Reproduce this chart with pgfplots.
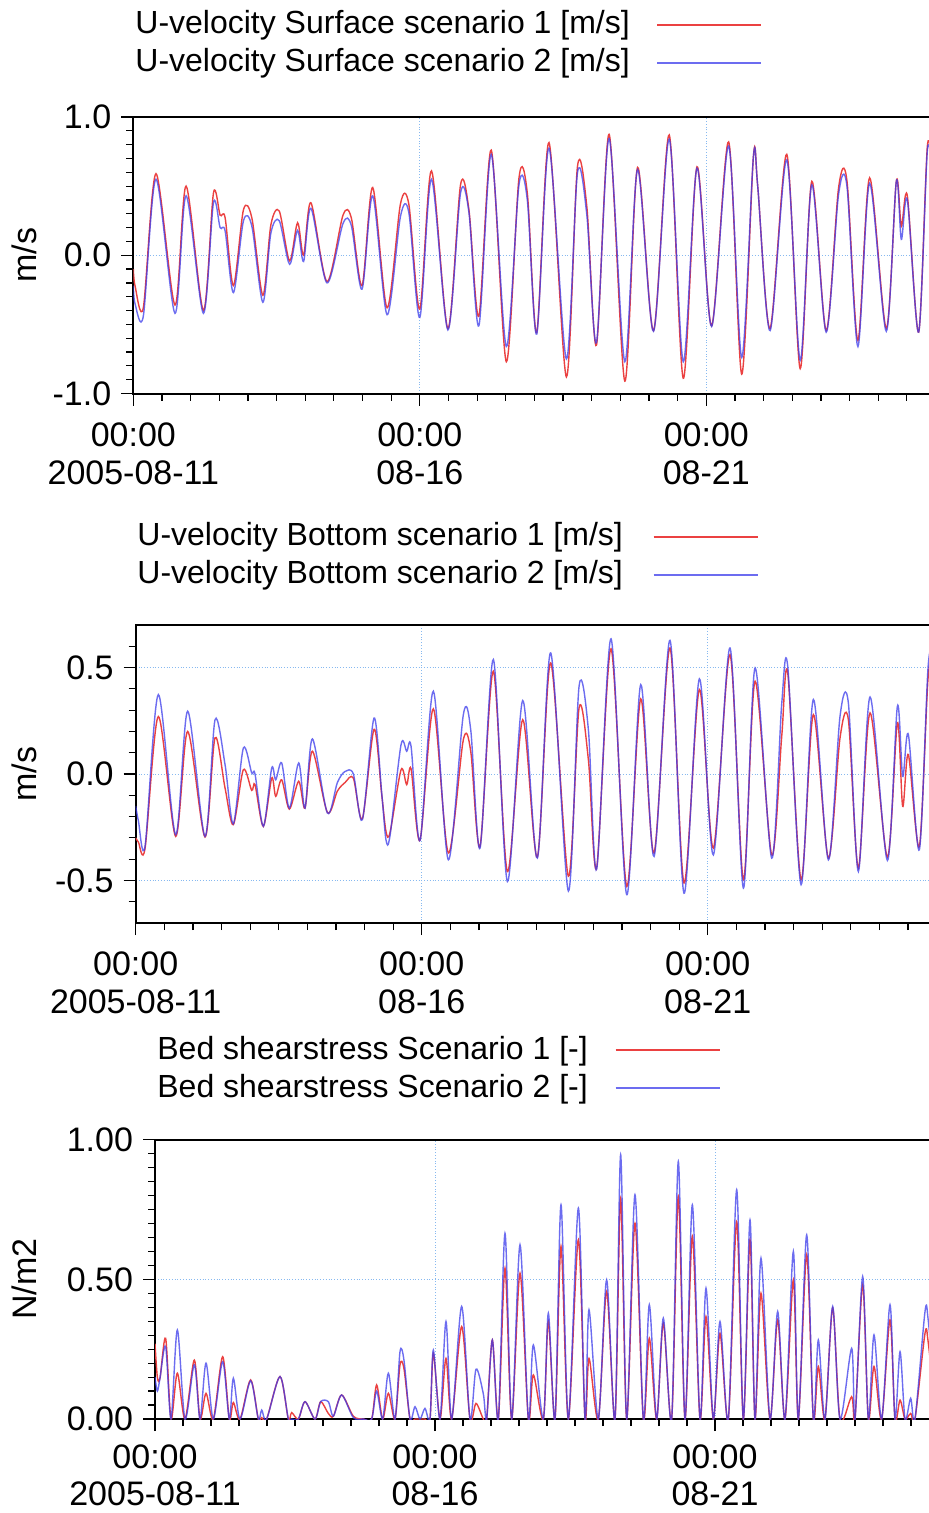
\documentclass[border=0pt]{standalone}
\usepackage{pgfplots}
\pgfplotsset{compat=1.18}
\usepackage{pgfplotstable}
\usepackage{fontspec}
\setmainfont{Liberation Sans}
\definecolor{sred}{RGB}{235,65,65}
\definecolor{sblue}{RGB}{60,60,235}
\definecolor{gridblue}{RGB}{135,185,240}

\pgfplotstableread{
t r b
0.000 -0.10 -0.22
0.030 -0.22 -0.35
0.175 -0.38 -0.44
0.396 0.59 0.55
0.728 -0.36 -0.42
0.921 0.50 0.43
1.224 -0.40 -0.42
1.399 0.45 0.38
1.515 0.29 0.20
1.603 0.27 0.175
1.748 -0.22 -0.27
1.923 0.33 0.25
2.069 0.27 0.21
2.261 -0.29 -0.34
2.401 0.22 0.16
2.547 0.32 0.25
2.727 -0.04 -0.065
2.867 0.235 0.18
2.972 0.00 -0.045
3.100 0.38 0.34
3.380 -0.19 -0.20
3.660 0.29 0.23
3.805 0.27 0.215
3.992 -0.22 -0.245
4.178 0.49 0.43
4.429 -0.38 -0.43
4.662 0.37 0.28
4.808 0.37 0.31
5.000 -0.39 -0.45
5.204 0.61 0.55
5.490 -0.53 -0.54
5.711 0.51 0.45
5.857 0.33 0.31
6.031 -0.44 -0.51
6.247 0.76 0.73
6.510 -0.77 -0.66
6.731 0.56 0.51
6.876 0.45 0.40
7.040 -0.56 -0.57
7.255 0.815 0.775
7.558 -0.88 -0.75
7.751 0.64 0.595
7.914 0.355 0.295
8.083 -0.65 -0.63
8.304 0.875 0.845
8.578 -0.91 -0.77
8.800 0.635 0.62
9.079 -0.545 -0.55
9.353 0.87 0.84
9.598 -0.89 -0.77
9.837 0.64 0.63
10.093 -0.51 -0.515
10.390 0.82 0.79
10.618 -0.86 -0.74
10.822 0.715 0.715
10.897 0.50 0.50
11.113 -0.53 -0.545
11.404 0.73 0.69
11.638 -0.82 -0.76
11.841 0.535 0.51
12.092 -0.545 -0.556
12.308 0.487 0.44
12.454 0.54 0.50
12.646 -0.616 -0.66
12.850 0.56 0.52
13.141 -0.53 -0.55
13.316 0.535 0.535
13.403 0.21 0.115
13.508 0.43 0.40
13.706 -0.556 -0.556
13.858 0.79 0.76
13.950 0.60 0.58
}\surf

\pgfplotstableread{
t r b
0.000 -0.30 -0.15
0.047 -0.32 -0.22
0.163 -0.35 -0.34
0.396 0.27 0.373
0.699 -0.293 -0.285
0.909 0.20 0.295
1.212 -0.296 -0.293
1.387 0.17 0.255
1.562 -0.066 0.044
1.707 -0.238 -0.234
1.882 0.02 0.122
2.028 -0.077 0.005
2.086 -0.05 0.0
2.232 -0.246 -0.246
2.378 -0.019 0.028
2.448 -0.105 -0.027
2.552 -0.027 0.052
2.686 -0.165 -0.16
2.850 -0.034 0.052
2.960 -0.16 -0.16
3.089 0.107 0.165
3.351 -0.18 -0.183
3.526 -0.08 -0.04
3.660 -0.04 0.012
3.805 -0.019 0.0
3.963 -0.21 -0.215
4.167 0.21 0.263
4.301 -0.097 -0.09
4.376 -0.27 -0.31
4.446 -0.275 -0.29
4.639 0.02 0.138
4.738 -0.05 0.107
4.814 0.024 0.13
4.971 -0.31 -0.312
5.204 0.306 0.389
5.466 -0.371 -0.403
5.728 0.161 0.279
5.857 0.107 0.208
6.020 -0.34 -0.348
6.253 0.483 0.538
6.498 -0.458 -0.505
6.766 0.255 0.345
7.022 -0.39 -0.395
7.255 0.522 0.569
7.564 -0.48 -0.55
7.751 0.31 0.412
7.914 0.067 0.208
8.059 -0.44 -0.447
8.310 0.588 0.635
8.584 -0.528 -0.567
8.829 0.353 0.42
9.062 -0.371 -0.387
9.341 0.592 0.628
9.586 -0.512 -0.56
9.854 0.397 0.447
10.099 -0.348 -0.38
10.390 0.561 0.592
10.624 -0.497 -0.536
10.828 0.436 0.498
11.119 -0.38 -0.395
11.294 0.177 0.33
11.399 0.475 0.506
11.632 -0.497 -0.52
11.847 0.279 0.35
12.110 -0.395 -0.403
12.313 0.169 0.271
12.459 0.255 0.334
12.634 -0.442 -0.458
12.838 0.287 0.362
13.141 -0.39 -0.406
13.316 0.24 0.318
13.409 -0.152 -0.011
13.508 0.091 0.185
13.700 -0.34 -0.356
13.852 0.45 0.50
13.950 0.55 0.60
}\bott

\pgfplotstableread{
t r b
0.000 0.27 0.15
0.042 0.15 0.10
0.089 0.146 0.146
0.190 0.289 0.259
0.286 0 0
0.399 0.164 0.319
0.536 0 0
0.702 0.211 0.194
0.804 0 0
0.911 0.092 0.200
1.042 0 0
1.208 0.223 0.205
1.327 0 0
1.399 0.059 0.146
1.518 0 0
1.708 0.140 0.137
1.845 0 0
1.905 0.005 0.032
1.994 0 0
2.232 0.152 0.152
2.381 0 0
2.440 0.023 0.0
2.560 0 0
2.679 0.062 0.062
2.857 0 0
2.958 0.062 0.062
3.095 0.020 0.062
3.185 0.01 0.01
3.333 0.086 0.086
3.542 0.01 0.005
3.720 0 0
3.869 0 0
3.958 0.122 0.100
4.065 0 0
4.167 0.092 0.164
4.286 0 0
4.375 0.194 0.241
4.446 0.18 0.21
4.554 0 0
4.643 0 0.044
4.732 0 0
4.821 0 0.038
4.911 0 0
4.970 0.235 0.247
5.089 0 0
5.196 0.217 0.349
5.298 0 0
5.476 0.331 0.403
5.625 0 0
5.732 0.056 0.178
5.863 0.0 0.09
5.923 0 0
6.024 0.283 0.283
6.131 0 0
6.250 0.540 0.665
6.369 0 0
6.518 0.522 0.624
6.667 0 0
6.756 0.158 0.265
6.935 0 0
7.024 0.349 0.379
7.143 0 0
7.250 0.618 0.767
7.381 0 0
7.560 0.642 0.755
7.679 0 0
7.750 0.217 0.391
7.917 0 0
8.065 0.456 0.498
8.214 0 0
8.315 0.791 0.946
8.423 0 0
8.571 0.701 0.803
8.720 0 0
8.827 0.289 0.409
8.958 0 0
9.077 0.343 0.361
9.226 0 0
9.345 0.797 0.922
9.464 0 0
9.595 0.654 0.767
9.732 0 0
9.839 0.367 0.468
9.970 0 0
10.089 0.307 0.349
10.238 0 0
10.387 0.707 0.821
10.506 0 0
10.625 0.642 0.713
10.714 0 0
10.821 0.450 0.576
10.982 0 0
11.119 0.355 0.385
11.250 0 0
11.399 0.498 0.600
11.488 0 0
11.637 0.588 0.659
11.756 0 0
11.845 0.188 0.283
11.964 0 0
12.101 0.397 0.403
12.232 0 0
12.440 0.080 0.253
12.500 0 0
12.637 0.480 0.510
12.738 0 0
12.839 0.188 0.301
12.976 0 0
13.125 0.355 0.409
13.214 0 0
13.304 0.068 0.241
13.393 0 0
13.494 0.020 0.074
13.571 0 0
13.750 0.307 0.385
13.804 0.280 0.360
13.900 0.10 0.15
}\shear

\pgfplotsset{
  panel/.style={
    scale only axis,
    xmin=0, xmax=14.1,
    axis line style={line width=1pt},
    tick align=outside,
    tick pos=left,
    major tick length=6pt,
    minor tick length=3.5pt,
    every tick/.style={black, line width=0.6pt},
    xtick={0,5,10},
    minor xtick={0.5,1,...,14},
    xticklabels={{00:00\\2005-08-11},{00:00\\08-16},{00:00\\08-21}},
    xticklabel style={align=center, font=\fontsize{17}{19}\selectfont, yshift=-5pt},
    yticklabel style={font=\fontsize{17}{19}\selectfont, xshift=-1.5pt},
    ylabel style={font=\fontsize{17}{19}\selectfont, anchor=center},
    /pgf/number format/assume math mode=true,
    grid=major,
    major grid style={gridblue, densely dotted, line width=0.5pt},
    legend style={draw=none, fill=none, inner sep=0pt,
      font=\fontsize{16}{19}\selectfont, row sep=2pt,
      nodes={inner sep=0pt, text height=13pt, text depth=4pt},
      at={(axis description cs:0,1)}, anchor=north west},
    legend cell align=left,
    legend plot pos=right,
    legend image code/.code={\draw[#1] (0pt,0pt) -- (52pt,0pt);},
  },
  redline/.style={sred, line width=0.7pt, smooth, mark=none},
  blueline/.style={sblue, line width=0.7pt, smooth, mark=none, opacity=0.75},
}

\begin{document}
\begin{tikzpicture}
\fill[white] (0,0) rectangle (464pt,-756.5pt);

% Panel 1
\begin{axis}[panel,
  at={(66.65pt,-196.75pt)}, anchor=south west,
  width=403.97pt, height=138.25pt,
  ymin=-1, ymax=1,
  ytick={-1,0,1}, yticklabels={-1.0,0.0,1.0},
  minor ytick={-0.9,-0.8,...,0.9},
  ylabel={m/s},
  ylabel style={at={(axis description cs:-0.1353,0.5)}},
  legend style={xshift=0.85pt, yshift=54.8pt, /tikz/every odd column/.append style={column sep=13.5pt}},
]
\addplot[redline] table[x=t,y=r]{\surf};
\addlegendentry{U-velocity Surface scenario 1 [m/s]}
\addplot[blueline] table[x=t,y=b]{\surf};
\addlegendentry{U-velocity Surface scenario 2 [m/s]}
\end{axis}

% Panel 2
\begin{axis}[panel,
  at={(67.85pt,-461.5pt)}, anchor=south west,
  width=403.26pt, height=149pt,
  ymin=-0.7, ymax=0.7,
  ytick={-0.5,0,0.5}, yticklabels={-0.5,0.0,0.5},
  minor ytick={-0.6,-0.5,...,0.6},
  ylabel={m/s},
  ylabel style={at={(axis description cs:-0.1385,0.5)}},
  legend style={xshift=0.65pt, yshift=52.8pt, /tikz/every odd column/.append style={column sep=15pt}},
]
\addplot[redline] table[x=t,y=r]{\bott};
\addlegendentry{U-velocity Bottom scenario 1 [m/s]}
\addplot[blueline] table[x=t,y=b]{\bott};
\addlegendentry{U-velocity Bottom scenario 2 [m/s]}
\end{axis}

% Panel 3
\begin{axis}[panel,
  at={(77.5pt,-709.5pt)}, anchor=south west,
  width=394.8pt, height=139.65pt,
  ymin=0, ymax=1,
  ytick={0,0.5,1}, yticklabels={0.00,0.50,1.00},
  minor ytick={0.05,0.1,...,0.95},
  xticklabel style={yshift=1.5pt, font=\fontsize{17}{18.5}\selectfont},
  ylabel={N/m2},
  ylabel style={at={(axis description cs:-0.166,0.5)}},
  legend style={xshift=1pt, yshift=53.5pt, /tikz/every odd column/.append style={column sep=13.5pt}},
]
\addplot[redline] table[x=t,y=r]{\shear};
\addlegendentry{Bed shearstress Scenario 1 [-]}
\addplot[blueline] table[x=t,y=b]{\shear};
\addlegendentry{Bed shearstress Scenario 2 [-]}
\end{axis}

\pgfresetboundingbox
\path[use as bounding box] (0,0) rectangle (464pt,-756.5pt);
\end{tikzpicture}
\end{document}
